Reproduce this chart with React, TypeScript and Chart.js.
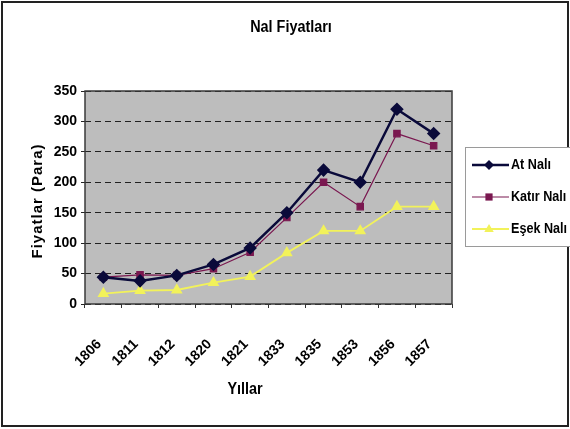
import React, { useEffect, useRef } from 'react';
import { Chart, registerables } from 'chart.js';

Chart.register(...registerables);

const chartTitle = 'Nal Fiyatları';
const xAxisTitle = 'Yıllar';
const yAxisTitle = 'Fiyatlar (Para)';
const years = ['1806', '1811', '1812', '1820', '1821', '1833', '1835', '1853', '1856', '1857'];
const atNali = [44, 38, 47, 65, 92, 150, 220, 200, 320, 280];
const katirNali = [44, 48, 47, 58, 85, 142, 200, 160, 280, 260];
const esekNali = [17, 22, 23, 35, 45, 84, 120, 120, 160, 160];
const seriesNames = ['At Nalı', 'Katır Nalı', 'Eşek Nalı'];
const yMin = 0;
const yMax = 350;
const yStep = 50;

const FONT = '"Liberation Sans", Arial, sans-serif';

const colors = ['#0a0a3a', '#7a1850', '#f2f25a'];
const styles: any[] = ['rectRot', 'rect', 'triangle'];
const widths = [2.5, 1.2, 1.8];
const radii = [5, 4.5, 5];

function drawMarker(ctx: CanvasRenderingContext2D, style: string, r: number, x: number, y: number, color: string) {
  ctx.save();
  ctx.fillStyle = color;
  ctx.beginPath();
  if (style === 'rectRot') {
    ctx.moveTo(x, y - r);
    ctx.lineTo(x + r, y);
    ctx.lineTo(x, y + r);
    ctx.lineTo(x - r, y);
  } else if (style === 'rect') {
    const s = r * 0.8;
    ctx.rect(x - s, y - s, 2 * s, 2 * s);
  } else {
    ctx.moveTo(x, y - r);
    ctx.lineTo(x + r * 0.95, y + r * 0.6);
    ctx.lineTo(x - r * 0.95, y + r * 0.6);
  }
  ctx.closePath();
  ctx.fill();
  ctx.restore();
}

function narrowText(ctx: CanvasRenderingContext2D, text: string, x: number, y: number, sx: number, align: CanvasTextAlign) {
  ctx.save();
  ctx.translate(x, y);
  ctx.scale(sx, 1);
  ctx.textAlign = align;
  ctx.fillText(text, 0, 0);
  ctx.restore();
}

const decorPlugin = {
  id: 'decor',
  beforeDraw(chart: any) {
    const { ctx, chartArea: a } = chart;
    ctx.save();
    ctx.fillStyle = '#ffffff';
    ctx.fillRect(0, 0, chart.width, chart.height);
    ctx.fillStyle = '#bdbdbd';
    ctx.fillRect(a.left, a.top, a.right - a.left, a.bottom - a.top);
    ctx.restore();
  },
  afterDraw(chart: any) {
    const { ctx, chartArea: a } = chart;
    ctx.save();
    ctx.strokeStyle = '#3a3a3a';
    ctx.lineWidth = 1.5;
    ctx.strokeRect(a.left, a.top, a.right - a.left, a.bottom - a.top);
    ctx.strokeStyle = '#222';
    ctx.lineWidth = 2;
    ctx.strokeRect(2, 2, chart.width - 4, chart.height - 5);
    ctx.fillStyle = '#000';
    ctx.textBaseline = 'middle';
    ctx.font = `bold 16px ${FONT}`;
    narrowText(ctx, chartTitle, 291, 28, 0.9, 'center');
    narrowText(ctx, xAxisTitle, 245, 390, 0.9, 'center');
    ctx.save();
    ctx.translate(38, 201);
    ctx.rotate(-Math.PI / 2);
    (ctx as any).letterSpacing = '1px';
    ctx.font = `bold 15px ${FONT}`;
    ctx.textAlign = 'center';
    ctx.fillText(yAxisTitle, 0, 0);
    ctx.restore();
    const lx = 465, ly = 147, lw = 112, lh = 99;
    ctx.fillStyle = '#ffffff';
    ctx.fillRect(lx, ly, lw, lh);
    ctx.strokeStyle = '#9a9a9a';
    ctx.lineWidth = 1;
    ctx.strokeRect(lx + 0.5, ly + 0.5, lw, lh);
    const rows = [165, 197, 229];
    chart.data.datasets.forEach((ds: any, i: number) => {
      const y = rows[i];
      ctx.strokeStyle = colors[i];
      ctx.lineWidth = widths[i];
      ctx.beginPath();
      ctx.moveTo(472, y);
      ctx.lineTo(509, y);
      ctx.stroke();
      drawMarker(ctx, styles[i], radii[i], 489, y, colors[i]);
      ctx.fillStyle = '#000';
      ctx.textBaseline = 'middle';
      ctx.font = `bold 14px ${FONT}`;
      narrowText(ctx, ds.label, 511, y, 0.9, 'left');
    });
    ctx.restore();
  },
};

export default function App() {
  const ref = useRef<HTMLCanvasElement | null>(null);

  useEffect(() => {
    document.body.style.margin = '0';
    const canvas = ref.current!;
    const sets = [atNali, katirNali, esekNali];
    const chart = new Chart(canvas, {
      type: 'line',
      data: {
        labels: years,
        datasets: sets.map((d, i) => ({
          label: seriesNames[i],
          data: d,
          borderColor: colors[i],
          backgroundColor: colors[i],
          pointBackgroundColor: colors[i],
          pointBorderColor: colors[i],
          borderWidth: widths[i],
          pointStyle: styles[i],
          pointRadius: radii[i],
          tension: 0,
          fill: false,
        })),
      },
      options: {
        responsive: false,
        animation: false,
        layout: { padding: { left: 0, top: 91, right: 118, bottom: 0 } },
        plugins: {
          legend: { display: false },
          title: { display: false },
          tooltip: { enabled: false },
        },
        scales: {
          x: {
            offset: true,
            grid: {
              offset: true,
              drawOnChartArea: false,
              drawTicks: true,
              tickLength: 4,
              color: '#333',
            },
            border: { display: false },
            ticks: {
              color: '#000',
              font: { family: FONT, size: 14, weight: 'bold' },
              minRotation: 45,
              maxRotation: 45,
              padding: 28,
              labelOffset: -4,
            },
            afterFit: (s: any) => { s.height = 125; },
          },
          y: {
            min: yMin,
            max: yMax,
            ticks: {
              stepSize: yStep,
              color: '#000',
              font: { family: FONT, size: 14, weight: 'bold' },
              padding: 4,
            },
            grid: {
              color: '#222',
              lineWidth: 1,
              tickLength: 4,
            },
            border: { display: false, dash: [6, 4] },
            afterFit: (s: any) => { s.width = 85; },
          },
        },
      },
      plugins: [decorPlugin],
    } as any);
    return () => chart.destroy();
  }, []);

  return (
    <div style={{ position: 'absolute', left: 0, top: 0, width: 570, height: 429 }}>
      <canvas ref={ref} width={570} height={429} />
    </div>
  );
}
